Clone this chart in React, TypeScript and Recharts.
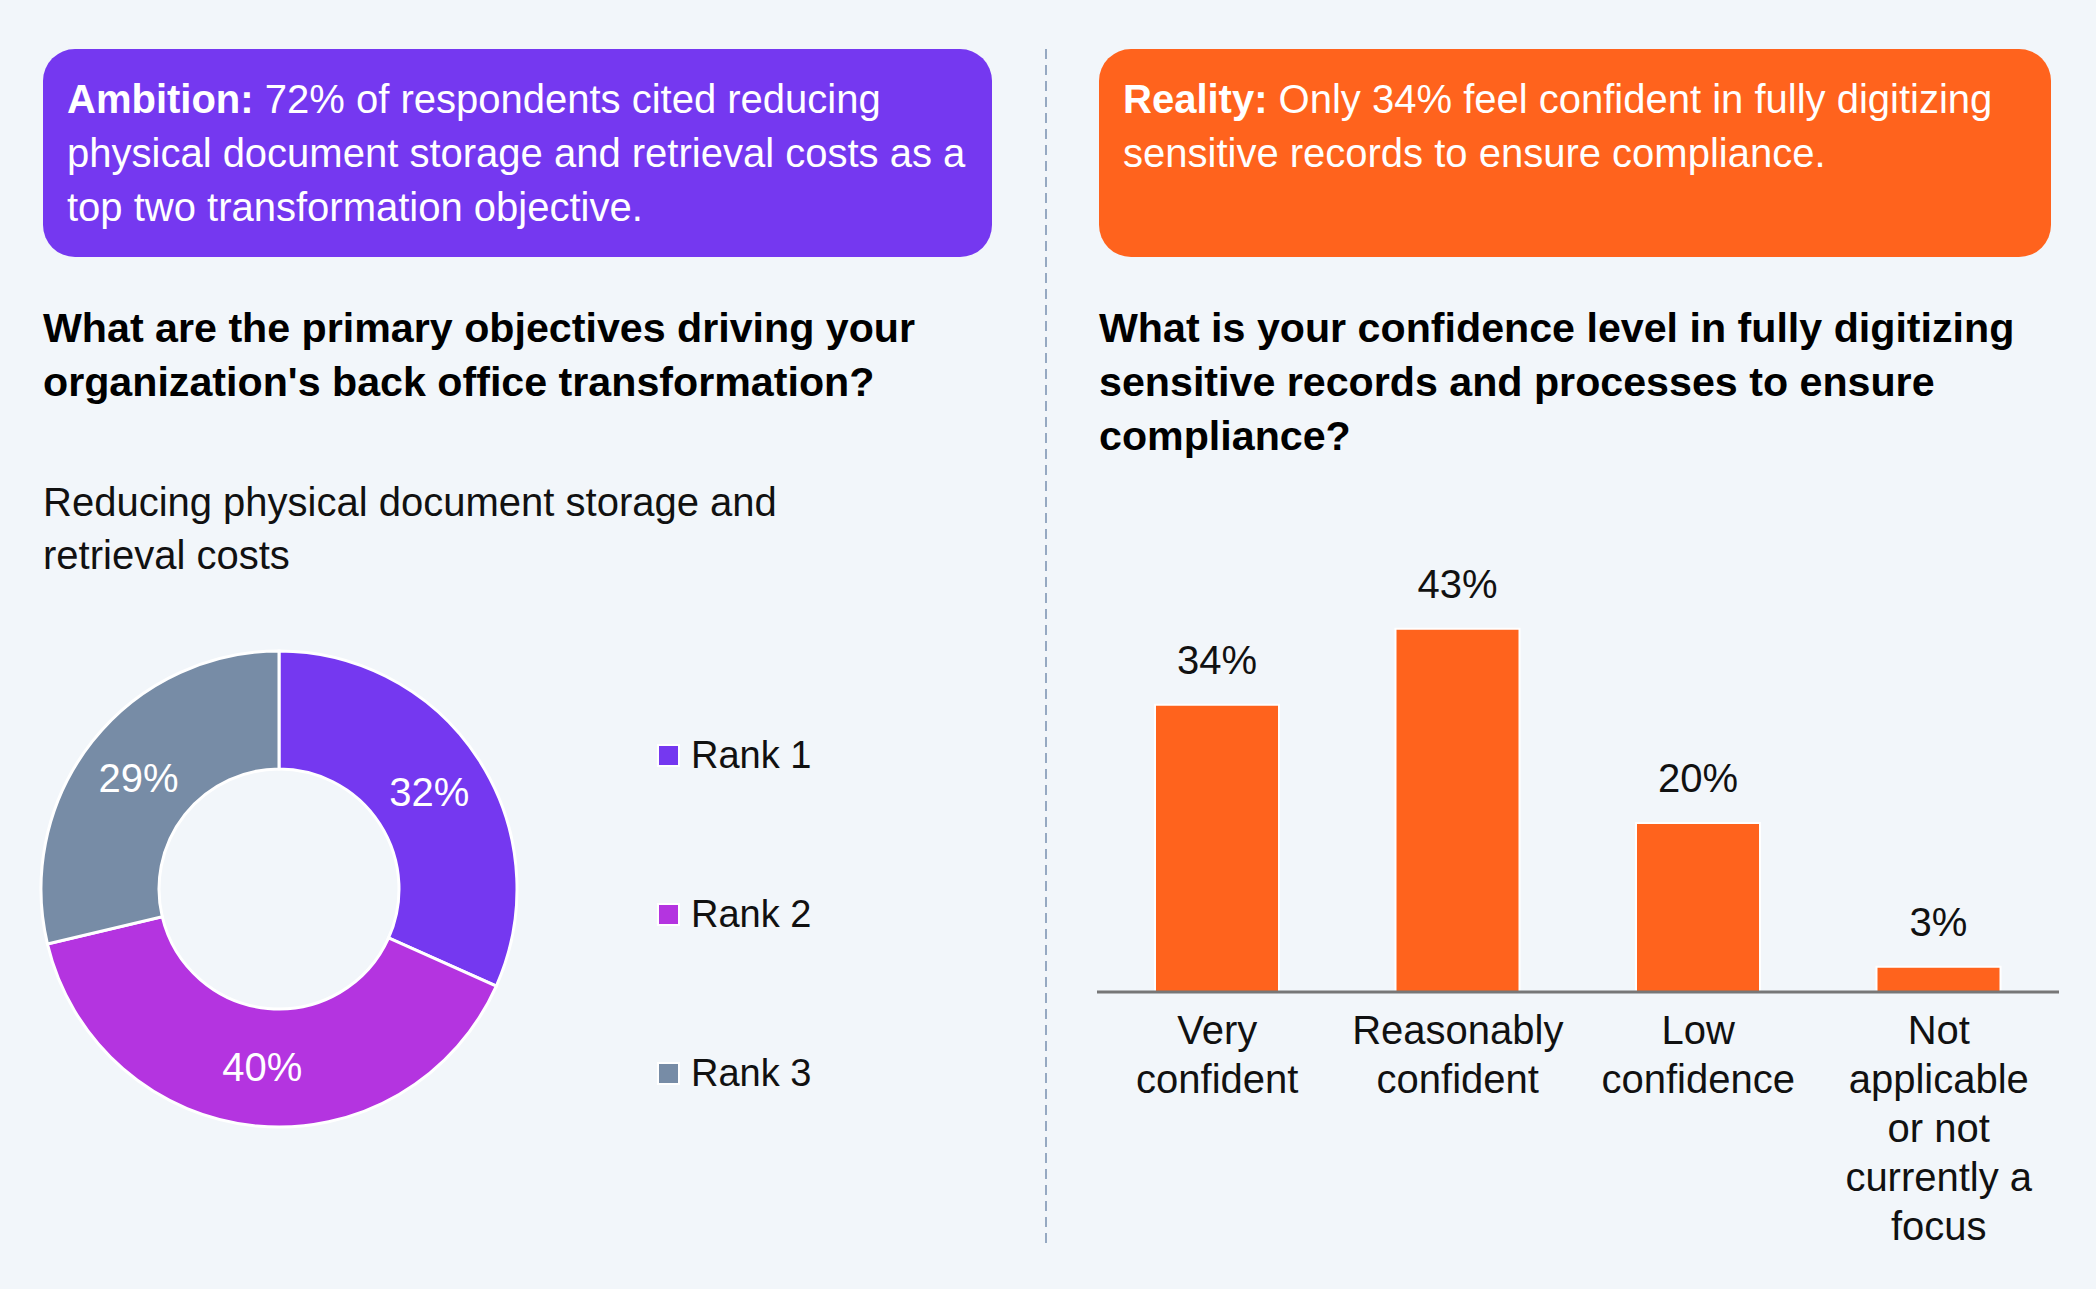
import React from 'react';
import {
  Bar,
  BarChart,
  Cell,
  LabelList,
  Legend,
  Pie,
  PieChart,
  XAxis,
  YAxis,
} from 'recharts';

const rankNames = ['Rank 1', 'Rank 2', 'Rank 3'];
const rankValues = [32, 40, 29];
const rankColors = ['#7538F0', '#B434E0', '#778CA6'];

const confidenceCategories = [
  'Very confident',
  'Reasonably confident',
  'Low confidence',
  'Not applicable or not currently a focus',
];
const confidenceValues = [34, 43, 20, 3];
const confidenceTickLines = [
  ['Very', 'confident'],
  ['Reasonably', 'confident'],
  ['Low', 'confidence'],
  ['Not', 'applicable', 'or not', 'currently a', 'focus'],
];

const FONT = '"Liberation Sans", Arial, Helvetica, sans-serif';
const BG = '#F2F6FA';
const ORANGE = '#FF631D';
const RAD = Math.PI / 180;

const donutData = rankNames.map((name, i) => ({ name, value: rankValues[i], color: rankColors[i] }));
const barData = confidenceCategories.map((name, i) => ({
  name,
  value: confidenceValues[i],
}));

function DonutLabel(props: any) {
  const { cx, cy, midAngle, innerRadius, outerRadius, value } = props;
  const r = (innerRadius + outerRadius) / 2;
  const x = cx + r * Math.cos(-midAngle * RAD);
  const y = cy + r * Math.sin(-midAngle * RAD);
  return (
    <text x={x} y={y} fill="#fff" fontSize={40} fontFamily={FONT} textAnchor="middle" dominantBaseline="central">
      {`${value}%`}
    </text>
  );
}

function RankLegend() {
  return (
    <div style={{ position: 'relative', width: 300, height: 480, fontFamily: FONT }}>
      {donutData.map((d, i) => (
        <div key={d.name} style={{ position: 'absolute', left: 0, top: i * 159, height: 60, width: 300 }}>
          <div
            style={{
              position: 'absolute',
              left: 0,
              top: 8,
              width: 23,
              height: 23,
              boxSizing: 'border-box',
              border: '2px solid #fff',
              background: d.color,
            }}
          />
          <div style={{ position: 'absolute', left: 34, top: 0, fontSize: 38, lineHeight: '38px', color: '#111', whiteSpace: 'nowrap' }}>
            {d.name}
          </div>
        </div>
      ))}
    </div>
  );
}

function MultiLineTick(props: any) {
  const { x, y, index } = props;
  const lines = confidenceTickLines[index] || [];
  return (
    <text x={x} y={y} fill="#111" fontSize={40} fontFamily={FONT} textAnchor="middle">
      {lines.map((l, i) => (
        <tspan key={i} x={x} dy={i === 0 ? 52 : 49}>
          {l}
        </tspan>
      ))}
    </text>
  );
}

const boxText: React.CSSProperties = {
  position: 'absolute',
  boxSizing: 'border-box',
  borderRadius: 32,
  color: '#fff',
  fontSize: 40,
  lineHeight: '54px',
  whiteSpace: 'nowrap',
  paddingLeft: 24,
  paddingTop: 23,
};

const heading: React.CSSProperties = {
  position: 'absolute',
  fontSize: 41.2,
  fontWeight: 700,
  lineHeight: '54px',
  color: '#000',
  whiteSpace: 'nowrap',
};

export default function App() {
  return (
    <div
      style={{
        position: 'absolute',
        left: 0,
        top: 0,
        width: 2096,
        height: 1289,
        background: BG,
        fontFamily: FONT,
        overflow: 'hidden',
      }}
    >
      <div style={{ ...boxText, left: 43, top: 49, width: 949, height: 208, background: '#7538F0' }}>
        <b>Ambition:</b> 72% of respondents cited reducing
        <br />
        physical document storage and retrieval costs as a
        <br />
        top two transformation objective.
      </div>
      <div style={{ ...boxText, left: 1099, top: 49, width: 952, height: 208, background: ORANGE }}>
        <b>Reality:</b> Only 34% feel confident in fully digitizing
        <br />
        sensitive records to ensure compliance.
      </div>

      <div style={{ ...heading, left: 43, top: 301 }}>
        What are the primary objectives driving your
        <br />
        organization's back office transformation?
      </div>
      <div style={{ ...heading, left: 1099, top: 301 }}>
        What is your confidence level in fully digitizing
        <br />
        sensitive records and processes to ensure
        <br />
        compliance?
      </div>
      <div style={{ position: 'absolute', left: 43, top: 476, fontSize: 40, lineHeight: '53px', color: '#111', whiteSpace: 'nowrap' }}>
        Reducing physical document storage and
        <br />
        retrieval costs
      </div>

      <svg style={{ position: 'absolute', left: 1040, top: 40 }} width={12} height={1210}>
        <line x1={6} y1={9} x2={6} y2={1203} stroke="#7890B0" strokeWidth={1.5} strokeDasharray="10 6" />
      </svg>

      <div style={{ position: 'absolute', left: 0, top: 640 }}>
        <PieChart width={1000} height={500} margin={{ top: 0, right: 0, bottom: 0, left: 0 }}>
          <Pie
            data={donutData}
            dataKey="value"
            nameKey="name"
            cx={279}
            cy={249}
            innerRadius={120}
            outerRadius={238}
            startAngle={90}
            endAngle={-270}
            stroke="#fff"
            strokeWidth={3}
            label={DonutLabel}
            labelLine={false}
            isAnimationActive={false}
          >
            {donutData.map((d) => (
              <Cell key={d.name} fill={d.color} />
            ))}
          </Pie>
          <Legend
            content={<RankLegend />}
            wrapperStyle={{ position: 'absolute', left: 657, top: 96, width: 300, height: 480 }}
          />
        </PieChart>
      </div>

      <div style={{ position: 'absolute', left: 1080, top: 540 }}>
        <BarChart
          width={1000}
          height={749}
          data={barData}
          margin={{ top: 29.5, right: 21, bottom: 10, left: 17 }}
        >
          <YAxis hide domain={[0, 50]} />
          <XAxis
            dataKey="name"
            interval={0}
            height={287}
            tickSize={0}
            tickMargin={0}
            tickLine={false}
            axisLine={{ stroke: '#777', strokeWidth: 3 }}
            tick={<MultiLineTick />}
          />
          <Bar dataKey="value" fill={ORANGE} barSize={124} stroke="#fff" strokeWidth={2} isAnimationActive={false}>
            <LabelList
              dataKey="value"
              position="top"
              offset={31}
              formatter={(v: any) => `${v}%`}
              fill="#111"
              fontSize={40}
              fontFamily={FONT}
            />
          </Bar>
        </BarChart>
      </div>
    </div>
  );
}
